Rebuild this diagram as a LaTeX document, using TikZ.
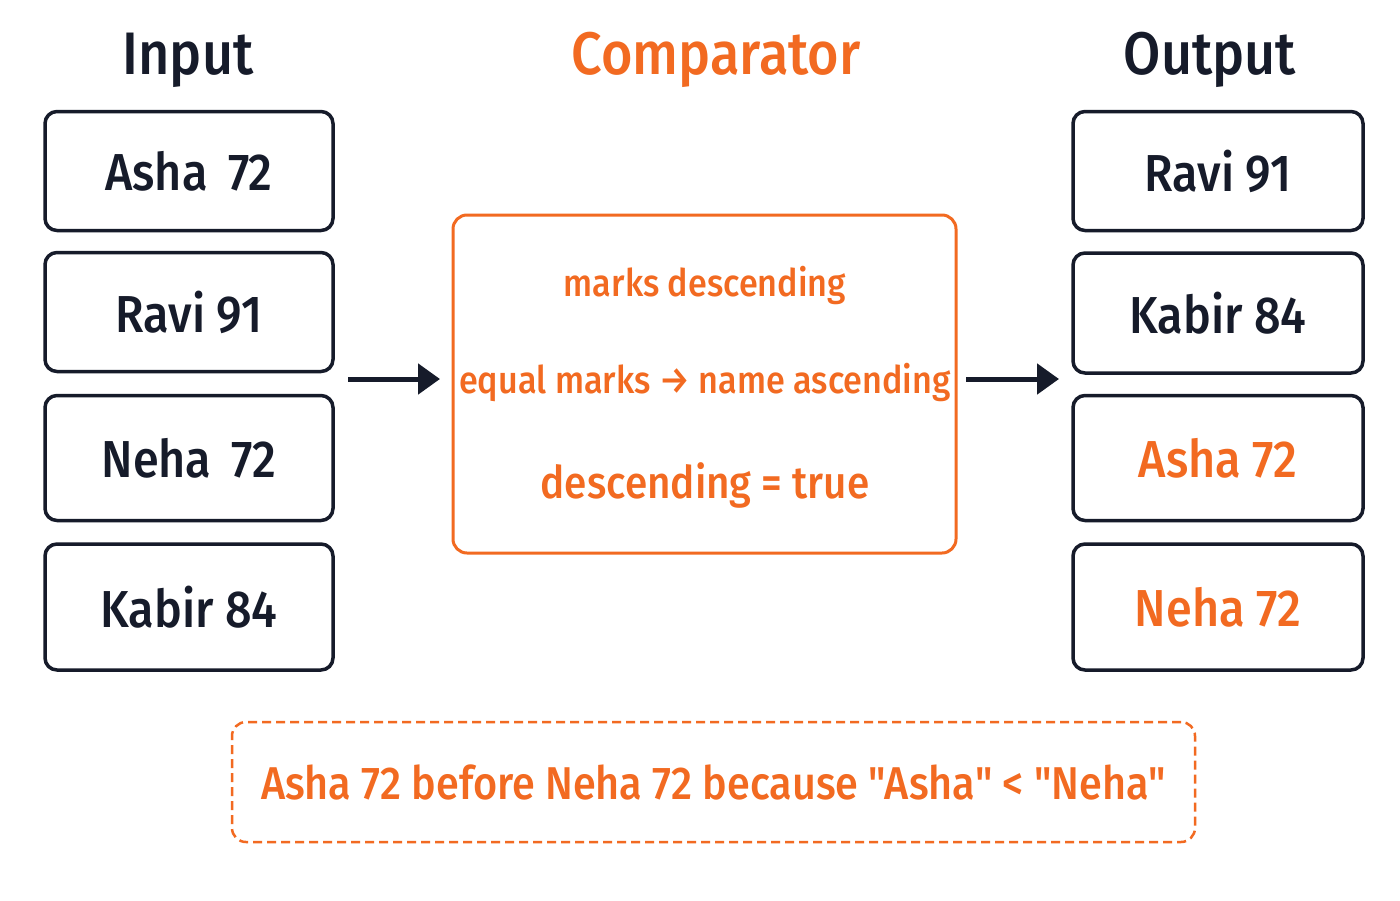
\documentclass[tikz,border=0pt]{standalone}
\usepackage{fontspec}
\setmainfont{Fira Sans}[Ligatures=TeXOff,FakeStretch=0.9,BoldFont={* Medium},BoldFeatures={FakeStretch=0.9}]
\usetikzlibrary{arrows.meta}
\definecolor{dk}{HTML}{161B2A}
\definecolor{og}{HTML}{F26A21}
\begin{document}
\begin{tikzpicture}[x=1pt,y=-1pt,
 box/.style={draw=dk,line width=3.5pt,rounded corners=12pt,minimum width=288pt,minimum height=119pt,font=\bfseries\fontsize{52}{58}\selectfont},
 ttl/.style={font=\bfseries\fontsize{60}{66}\selectfont},
 arr/.style={draw=dk,line width=5pt,-{Triangle[length=22pt,width=30pt]}}]
\useasboundingbox (0,0) rectangle (1400,900);
\fill[white] (0,0) rectangle (1400,900);
\node[ttl,text=dk] (ti) at (188,60) {Input};
\node[ttl,text=og] (tc) at (716,60) {Comparator};
\node[ttl,text=dk] (to) at (1210,60) {Output};
\node[box,text=dk] (i1) at (189,171) {Asha\, 72};
\node[box,text=dk] (i2) at (189,312) {Ravi 91};
\node[box,text=dk,minimum height=125pt] (i3) at (189,458) {Neha\, 72};
\node[box,text=dk,minimum height=126pt] (i4) at (189,607) {Kabir 84};
\node[box,text=dk,minimum width=290pt] (o1) at (1218,171) {Ravi 91};
\node[box,text=dk,minimum width=290pt,minimum height=120pt] (o2) at (1218,313) {Kabir 84};
\node[box,text=og,minimum width=290pt,minimum height=125pt] (o3) at (1218,458) {Asha 72};
\node[box,text=og,minimum width=290pt,minimum height=126pt] (o4) at (1218,607) {Neha 72};
\node[draw=og,line width=3pt,rounded corners=14pt,minimum width=503pt,minimum height=338pt] (cmp) at (704.5,384) {};
\node[text=og,font=\bfseries\fontsize{38}{44}\selectfont] (c1) at (705,285) {marks descending};
\node[text=og,font=\bfseries\fontsize{38}{44}\selectfont] (c2) at (705,382) {equal marks → name ascending};
\node[text=og,font=\bfseries\fontsize{45}{50}\selectfont] (c3) at (705,485) {descending = true};
\coordinate (a1) at (348,379); \coordinate (a2) at (440,379);
\coordinate (b1) at (966,379); \coordinate (b2) at (1059,379);
\draw[arr] (a1) -- (a2);
\draw[arr] (b1) -- (b2);
\node[draw=og,line width=2.5pt,dash pattern=on 9pt off 5pt,rounded corners=14pt,minimum width=963pt,minimum height=120pt,text=og,font=\bfseries\fontsize{46}{50}\selectfont] (note) at (713.5,782) {Asha 72 before Neha 72 because "Asha" < "Neha"};
\end{tikzpicture}
\end{document}
